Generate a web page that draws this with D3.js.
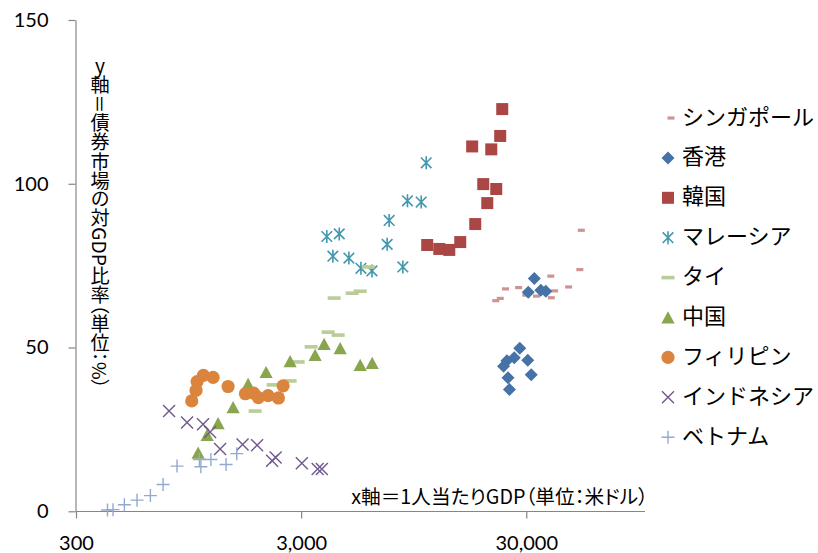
<!DOCTYPE html>
<html><head><meta charset="utf-8">
<script src="https://cdn.jsdelivr.net/npm/d3@7"></script>
<style>
html,body{margin:0;padding:0;background:#fff;}
svg{display:block;}
</style></head>
<body><svg id="chart" width="818" height="553"></svg>
<script>
// ---- data ----
const seriesNames = ["シンガポール","香港","韓国","マレーシア","タイ","中国","フィリピン","インドネシア","ベトナム"];

const singaporeGDP  = [52670, 51880, 46250, 38550, 40070, 38750, 33310, 29850, 27730, 24250, 22990, 21950];
const singaporeBond = [85.8, 73.8, 68.5, 71.8, 67.3, 65.2, 65.7, 66.0, 68.3, 67.9, 65.0, 64.3];

const hongkongGDP  = [32560, 30620, 34810, 36640, 28070, 26530, 24620, 23780, 30460, 24880, 31570, 25260];
const hongkongBond = [71.1, 66.9, 67.5, 67.2, 49.8, 46.9, 46.0, 44.3, 46.1, 40.8, 41.7, 37.2];

const koreaGDP  = [10890, 12320, 13650, 15270, 17800, 20130, 19320, 22070, 17250, 20970, 22980, 23460];
const koreaBond = [81.3, 80.1, 79.8, 82.2, 87.7, 94.1, 99.9, 98.4, 111.4, 110.5, 114.6, 122.8];

const malaysiaGDP  = [10780, 8900, 10240, 7380, 7230, 8490, 3900, 4430, 4150, 4890, 5530, 6190];
const malaysiaBond = [106.4, 94.8, 94.4, 88.8, 81.5, 74.6, 83.9, 84.7, 77.9, 77.3, 74.2, 73.4];

const thailandGDP  = [1874, 2252, 2680, 2909, 3323, 3954, 4380, 4205, 5055, 5487, 5958];
const thailandBond = [30.6, 38.6, 39.8, 45.6, 50.2, 54.7, 53.8, 65.1, 66.6, 67.2, 74.6];

const chinaGDP  = [1046, 1147, 1283, 1496, 1744, 2096, 2680, 3461, 3795, 4473, 5487, 6205];
const chinaBond = [17.9, 23.3, 26.9, 31.8, 38.9, 42.5, 45.8, 47.7, 51.1, 49.8, 44.7, 45.3];

const philippinesGDP  = [980, 1024, 1035, 1104, 1219, 1421, 1697, 1845, 1938, 2140, 2378, 2495];
const philippinesBond = [33.7, 36.9, 39.6, 41.5, 40.9, 38.1, 35.9, 36.1, 34.7, 35.3, 34.6, 38.3];

const indonesiaGDP  = [777, 934, 1100, 1182, 1310, 1648, 1912, 2229, 2311, 3021, 3552, 3708];
const indonesiaBond = [30.6, 27.1, 26.6, 24.2, 19.0, 20.4, 20.2, 15.4, 16.4, 14.7, 12.9, 12.9];

const vietnamGDP  = [414, 438, 492, 560, 642, 731, 843, 1060, 1076, 1192, 1392, 1553];
const vietnamBond = [0.4, 0.5, 2.0, 3.4, 4.8, 8.2, 13.8, 15.8, 13.6, 15.8, 14.3, 17.6];

const xTickValues = [300, 3000, 30000];
const yTickValues = [0, 50, 100, 150];
const xTitle = "x軸＝1人当たりGDP（単位：米ドル）";
const yTitleHead = "y";
const yTitleRest = "軸＝債券市場の対GDP比率（単位：%）";

// ---- styles ----
const seriesColors = ["#D19392","#4572A7","#AA4643","#4198AF","#B9CD96","#89A54E","#DB843D","#71588F","#93A9CF"];
const seriesMarkers = ["dashS","diamond","square","star","dashL","triangle","circle","cross","plus"];

const gdpSeries = [singaporeGDP, hongkongGDP, koreaGDP, malaysiaGDP, thailandGDP, chinaGDP, philippinesGDP, indonesiaGDP, vietnamGDP];
const bondSeries = [singaporeBond, hongkongBond, koreaBond, malaysiaBond, thailandBond, chinaBond, philippinesBond, indonesiaBond, vietnamBond];

const series = seriesNames.map((name, i) => ({
  name, color: seriesColors[i], marker: seriesMarkers[i],
  points: gdpSeries[i].map((g, j) => ({gdp: g, bond: bondSeries[i][j]}))
}));

const svg = d3.select("#chart");
const x = d3.scaleLog().domain([300, 100000]).range([76, 644]);
const y = d3.scaleLinear().domain([0, 150]).range([511.3, 20]);

const markerPath = {
  diamond: "M0,-6.5L6.5,0L0,6.5L-6.5,0Z",
  square: "M-6,-6H6V6H-6Z",
  triangle: "M0,-6.2L6.6,6H-6.6Z",
  circle: d3.symbol(d3.symbolCircle, Math.PI * 6.6 * 6.6)(),
  star: "M0,-6.5V6.5M-5.3,-5.3L5.3,5.3M5.3,-5.3L-5.3,5.3",
  cross: "M-6,-6L6,6M6,-6L-6,6",
  plus: "M-6.5,0H6.5M0,-6.5V6.5",
  dashL: "M-6.5,-1.8H6.5V1.8H-6.5Z",
  dashS: "M-3.5,-1.6H3.5V1.6H-3.5Z"
};
const strokeOnly = new Set(["star","cross","plus"]);

function styleMarker(sel, s) {
  if (strokeOnly.has(s.marker)) {
    sel.attr("fill", "none").attr("stroke", s.color)
       .attr("stroke-width", s.marker === "star" ? 1.6 : 1.4);
  } else {
    sel.attr("fill", s.color);
  }
}

// ---- axes ----
const axisColor = "#868686";
const yAxis = d3.axisLeft(y).tickValues(yTickValues).tickSize(7).tickSizeOuter(0).tickPadding(20);
const gy = svg.append("g").attr("transform", "translate(75.5,0)").call(yAxis);
const xAxis = d3.axisBottom(x).tickValues(xTickValues).tickFormat(d3.format(",")).tickSize(7).tickSizeOuter(0).tickPadding(17);
const gx = svg.append("g").attr("transform", "translate(0,511.5)").call(xAxis);
[gx, gy].forEach(g => {
  g.select(".domain").attr("stroke", axisColor).attr("stroke-width", 1.2);
  g.selectAll(".tick line").attr("stroke", axisColor).attr("stroke-width", 1.2);
  g.selectAll(".tick text").attr("fill", "#000").style("font-family", "Lato, sans-serif").style("font-size", "20px");
});
gx.select(".domain").attr("d", `M${x.range()[0]},0H${x.range()[1] + 1}`);

// ---- axis titles ----
const jpFont = "'Noto Sans CJK JP', 'Noto Sans', sans-serif";
const yt = svg.append("text")
  .attr("x", 100).attr("y", 56)
  .attr("writing-mode", "vertical-rl")
  .style("text-orientation", "mixed")
  .style("font-feature-settings", "'vpal' 1")
  .style("font-family", jpFont).style("font-size", "19.2px").attr("fill", "#000");
yt.append("tspan").style("text-orientation", "upright").text(yTitleHead);
yt.append("tspan").text(yTitleRest);

svg.append("text")
  .attr("x", 648).attr("y", 495.5)
  .attr("text-anchor", "end").attr("dominant-baseline", "central")
  .style("font-feature-settings", "'palt' 1")
  .style("font-family", jpFont).style("font-size", "19.7px").attr("fill", "#000")
  .text(xTitle);

// ---- points ----
series.forEach(s => {
  const g = svg.append("g");
  g.selectAll("path").data(s.points).join("path")
    .attr("d", markerPath[s.marker])
    .attr("transform", d => `translate(${x(d.gdp)},${y(d.bond)})`)
    .call(styleMarker, s);
});

// ---- legend ----
const legendTop = 114.5, legendStep = 39.9;
const lg = svg.append("g");
series.forEach((s, i) => {
  const cy = legendTop + i * legendStep;
  lg.append("path").attr("d", markerPath[s.marker])
    .attr("transform", `translate(${s.marker === "dashS" ? 671 : 668},${cy + 3.5})`)
    .call(styleMarker, s);
  lg.append("text").attr("x", 682).attr("y", cy)
    .attr("dominant-baseline", "central")
    .style("font-family", jpFont).style("font-size", "22px").attr("fill", "#000")
    .text(s.name);
});
</script>
</body></html>
